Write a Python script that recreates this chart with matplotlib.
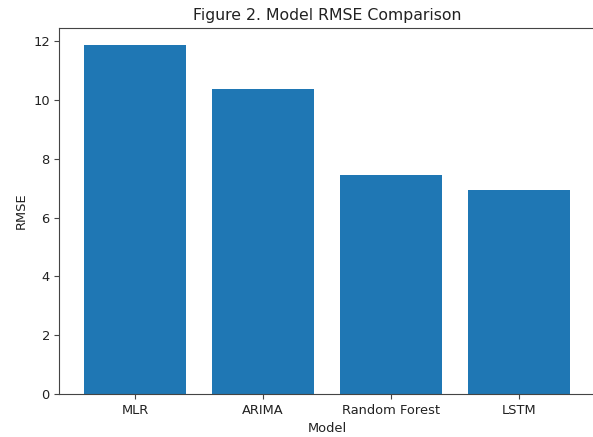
import matplotlib
matplotlib.use("Agg")
import matplotlib.pyplot as plt

models = ["MLR", "ARIMA", "Random Forest", "LSTM"]
rmse = [11.86, 10.38, 7.46, 6.93]

fig = plt.figure(figsize=(5.93, 4.37), dpi=100)
ax = fig.add_axes([0.1003, 0.0984, 0.9022, 0.8376])
ax.bar(models, rmse, color="#1f77b4")
ax.set_title("Figure 2. Model RMSE Comparison", fontsize=11.3, color="#222222")
ax.set_xlabel("Model", fontsize=9.4, color="#222222")
ax.set_ylabel("RMSE", fontsize=9.4, color="#222222")
ax.tick_params(labelsize=9.4, labelcolor="#222222", color="#444444")
for s in ax.spines.values():
    s.set_color("#444444")
ax.spines["right"].set_visible(False)
fig.savefig("out.png", dpi=100)
